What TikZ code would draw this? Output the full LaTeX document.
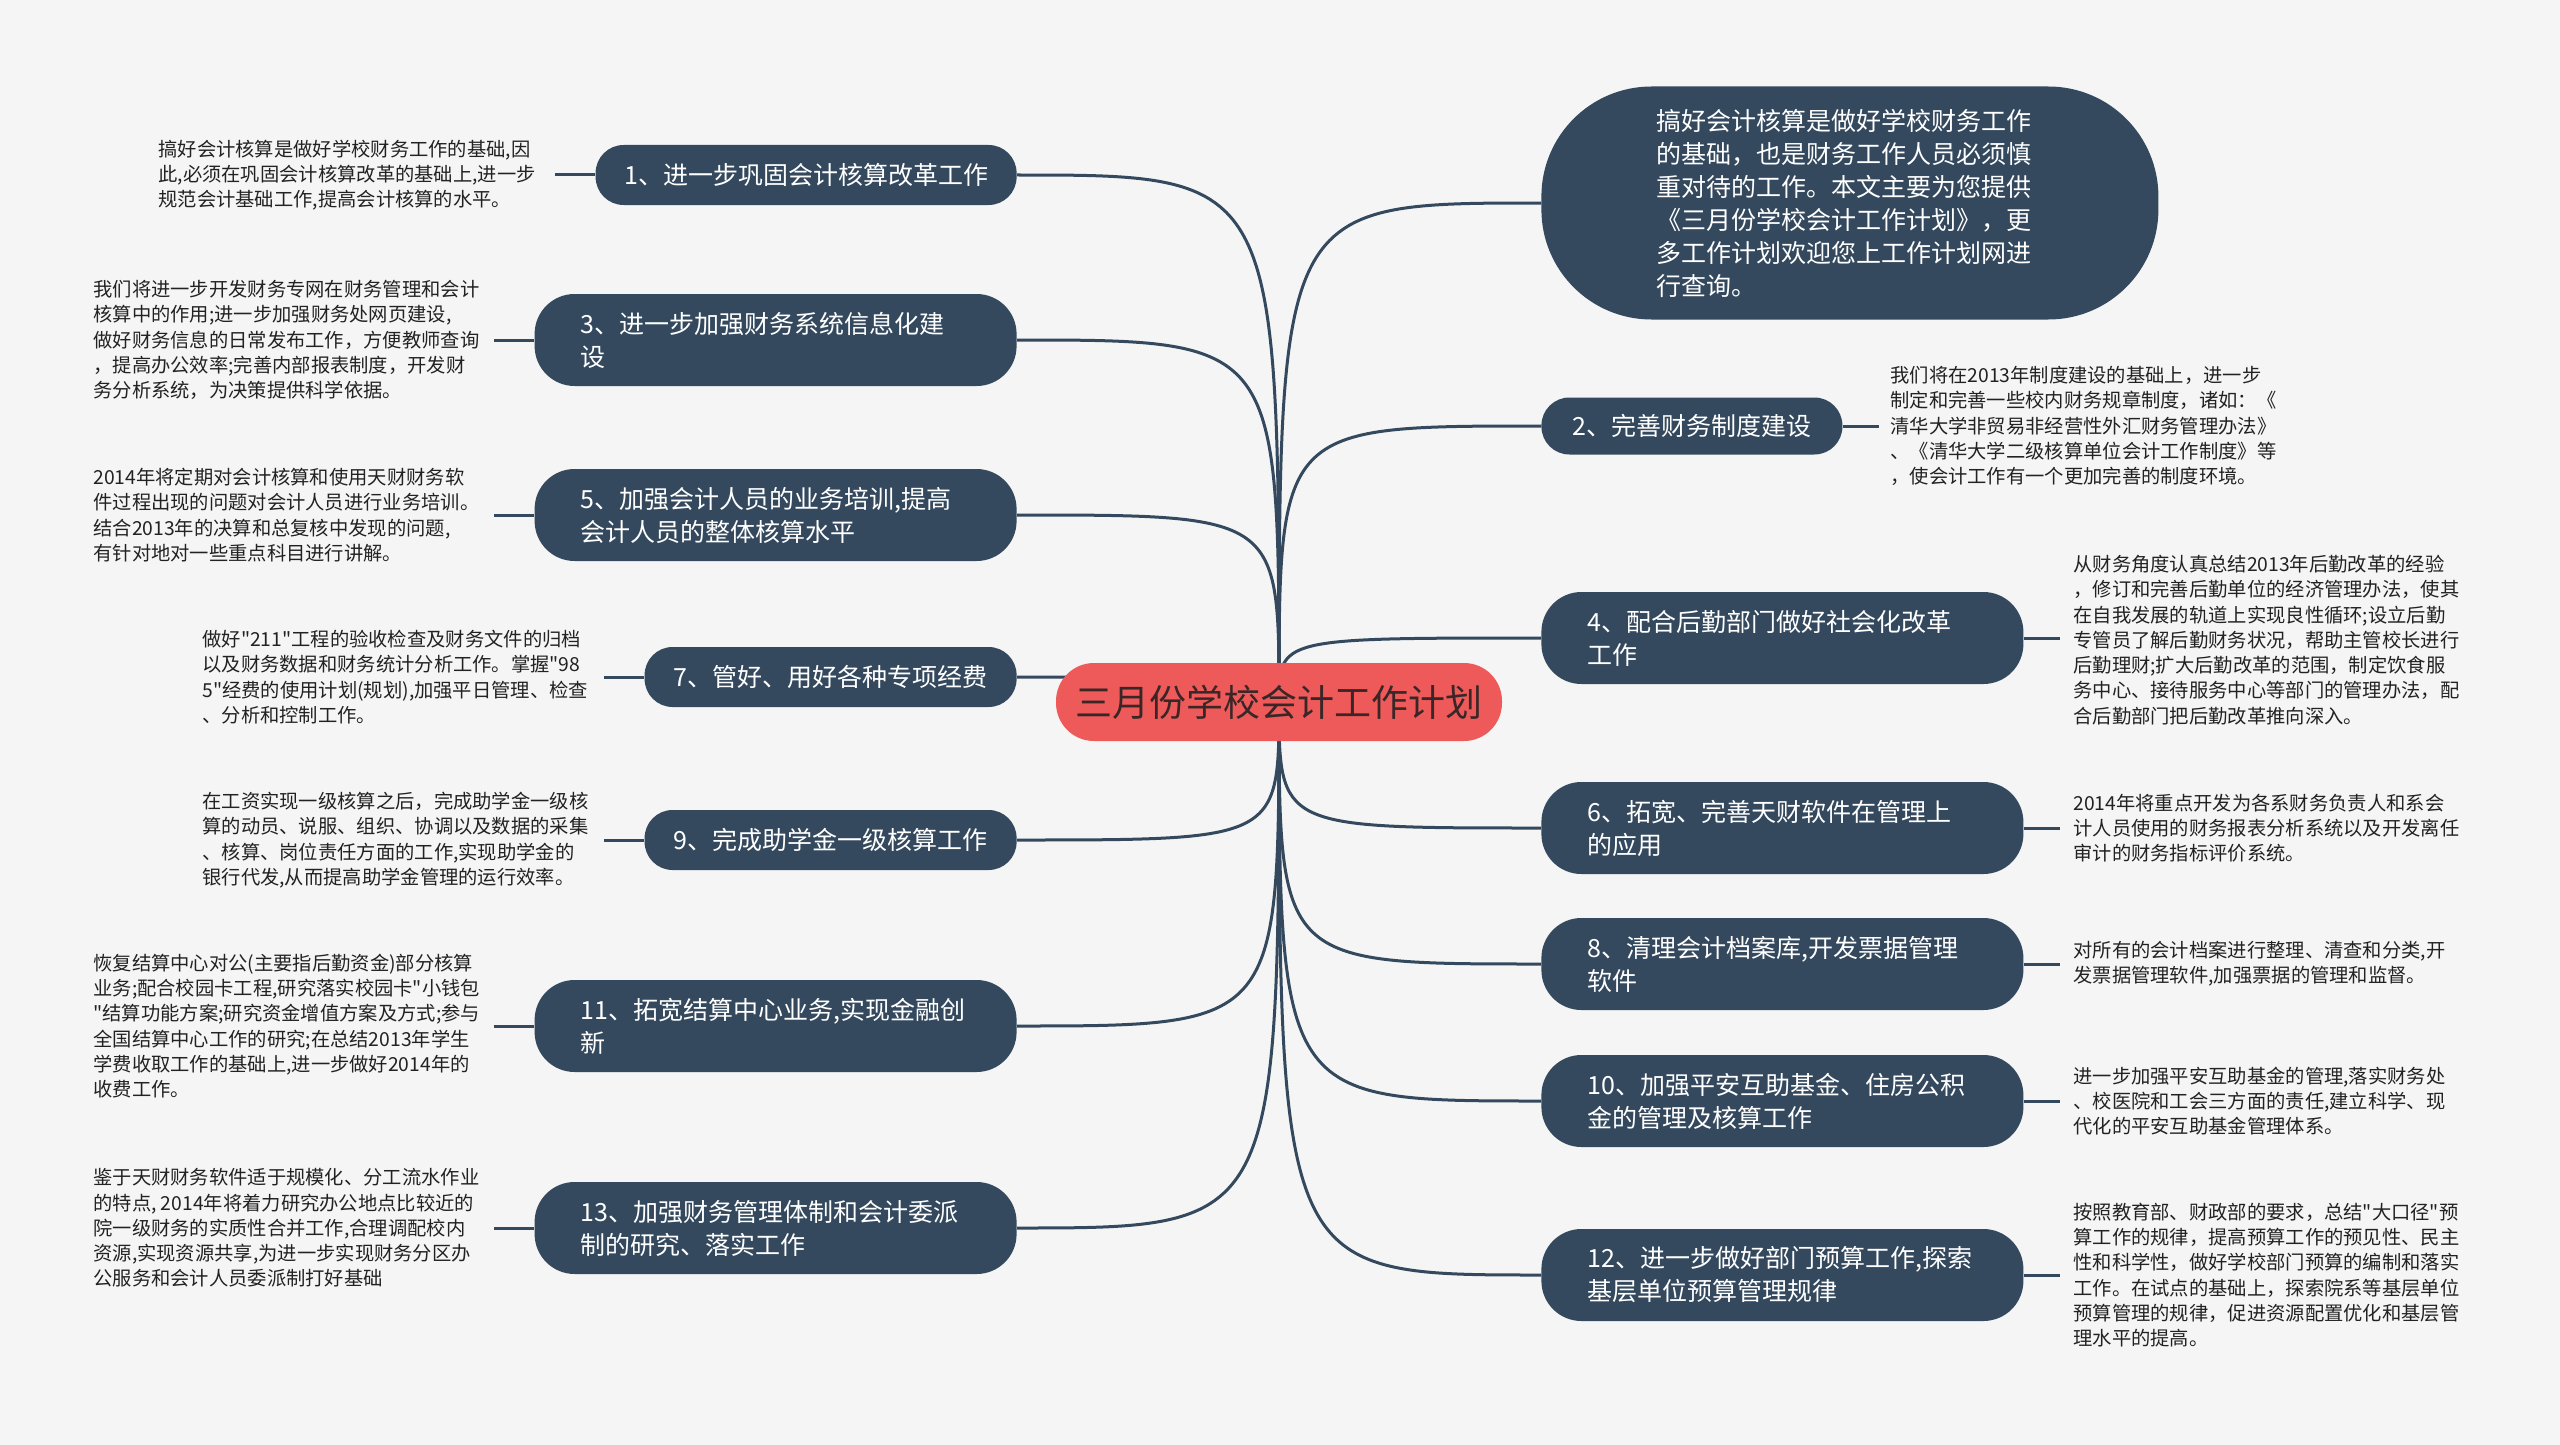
\documentclass[tikz,border=0pt]{standalone}
\usepackage{fontspec}
\setmainfont{Noto Sans CJK SC}[Ligatures=TeXReset]
\usepackage{tikz}
\usetikzlibrary{positioning,calc}
\usepackage{xcolor}
\definecolor{slate}{HTML}{34495E}
\definecolor{rootred}{HTML}{EE5A5A}
\definecolor{roottext}{HTML}{3A2626}
\definecolor{notetext}{HTML}{222222}
\definecolor{canvas}{HTML}{F5F5F5}
\pgfdeclarelayer{background}
\pgfsetlayers{background,main}
\tikzset{
  hub/.style      = {fill=rootred, text=roottext, rounded corners=19pt,
                     minimum width=223pt, minimum height=39pt,
                     font=\fontsize{18.5}{22}\selectfont},
  topic/.style    = {fill=slate, text=white, rounded corners=14pt,
                     minimum height=30pt, font=\fontsize{12.5}{16.5}\selectfont},
  topictwo/.style = {topic, rounded corners=20pt, minimum height=46pt,
                     text width=195pt, align=left, inner xsep=23pt},
  memo/.style     = {text=notetext, align=left, inner sep=0pt,
                     font=\fontsize{9.65}{12.65}\selectfont},
  wire/.style     = {draw=slate, line width=1.5pt},
}

\begin{document}
\begin{tikzpicture}[x=0.5pt, y=-0.5pt]
\useasboundingbox (0,0) rectangle (2560,1445);
% ---- centre ----
\node[hub] (root) at (1279,702) {三月份学校会计工作计划};
% ---- left branches ----
\node[topic, anchor=east, minimum width=210.5pt] (n1) at (1017,175) {1、进一步巩固会计核算改革工作};
\node[topictwo, anchor=east] (n3) at (1017,340) {3、进一步加强财务系统信息化建\\设};
\node[topictwo, anchor=east] (n5) at (1017,515) {5、加强会计人员的业务培训,提高\\会计人员的整体核算水平};
\node[topic, anchor=east, minimum width=186pt] (n7) at (1017,677) {7、管好、用好各种专项经费};
\node[topic, anchor=east, minimum width=186pt] (n9) at (1017,840) {9、完成助学金一级核算工作};
\node[topictwo, anchor=east] (n11) at (1017,1026) {11、拓宽结算中心业务,实现金融创\\新};
\node[topictwo, anchor=east] (n13) at (1017,1228) {13、加强财务管理体制和会计委派\\制的研究、落实工作};
% ---- right branches ----
\node[topic, anchor=west, rounded corners=55pt, minimum width=308.5pt,
      minimum height=116.5pt, text width=193pt, align=left] (intro) at (1541,203)
     {搞好会计核算是做好学校财务工作\\的基础，也是财务工作人员必须慎\\重对待的工作。本文主要为您提供\\《三月份学校会计工作计划》，更\\多工作计划欢迎您上工作计划网进\\行查询。};
\node[topic, anchor=west, minimum width=150.5pt, minimum height=28.5pt] (n2) at (1541,426) {2、完善财务制度建设};
\node[topictwo, anchor=west] (n4) at (1541,638) {4、配合后勤部门做好社会化改革\\工作};
\node[topictwo, anchor=west] (n6) at (1541,828) {6、拓宽、完善天财软件在管理上\\的应用};
\node[topictwo, anchor=west] (n8) at (1541,964) {8、清理会计档案库,开发票据管理\\软件};
\node[topictwo, anchor=west] (n10) at (1541,1101) {10、加强平安互助基金、住房公积\\金的管理及核算工作};
\node[topictwo, anchor=west] (n12) at (1541,1275) {12、进一步做好部门预算工作,探索\\基层单位预算管理规律};
% ---- notes, left ----
\node[memo, anchor=west] (m1) at (158,175) {搞好会计核算是做好学校财务工作的基础,因\\此,必须在巩固会计核算改革的基础上,进一步\\规范会计基础工作,提高会计核算的水平。};
\node[memo, anchor=west] (m3) at (93,340) {我们将进一步开发财务专网在财务管理和会计\\核算中的作用;进一步加强财务处网页建设,\\做好财务信息的日常发布工作，方便教师查询\\，提高办公效率;完善内部报表制度，开发财\\务分析系统，为决策提供科学依据。};
\node[memo, anchor=west] (m5) at (93,515) {2014年将定期对会计核算和使用天财财务软\\件过程出现的问题对会计人员进行业务培训。\\结合2013年的决算和总复核中发现的问题,\\有针对地对一些重点科目进行讲解。};
\node[memo, anchor=west] (m7) at (202,677) {做好"211"工程的验收检查及财务文件的归档\\以及财务数据和财务统计分析工作。掌握"98\\5"经费的使用计划(规划),加强平日管理、检查\\、分析和控制工作。};
\node[memo, anchor=west] (m9) at (202,840) {在工资实现一级核算之后，完成助学金一级核\\算的动员、说服、组织、协调以及数据的采集\\、核算、岗位责任方面的工作,实现助学金的\\银行代发,从而提高助学金管理的运行效率。};
\node[memo, anchor=west] (m11) at (93,1026) {恢复结算中心对公(主要指后勤资金)部分核算\\业务;配合校园卡工程,研究落实校园卡"小钱包\\"结算功能方案;研究资金增值方案及方式;参与\\全国结算中心工作的研究;在总结2013年学生\\学费收取工作的基础上,进一步做好2014年的\\收费工作。};
\node[memo, anchor=west] (m13) at (93,1228) {鉴于天财财务软件适于规模化、分工流水作业\\的特点, 2014年将着力研究办公地点比较近的\\院一级财务的实质性合并工作,合理调配校内\\资源,实现资源共享,为进一步实现财务分区办\\公服务和会计人员委派制打好基础};
% ---- notes, right ----
\node[memo, anchor=west] (m2) at (1890,426) {我们将在2013年制度建设的基础上，进一步\\制定和完善一些校内财务规章制度，诸如：《\\清华大学非贸易非经营性外汇财务管理办法》\\、《清华大学二级核算单位会计工作制度》等\\，使会计工作有一个更加完善的制度环境。};
\node[memo, anchor=west] (m4) at (2073,640) {从财务角度认真总结2013年后勤改革的经验\\，修订和完善后勤单位的经济管理办法，使其\\在自我发展的轨道上实现良性循环;设立后勤\\专管员了解后勤财务状况，帮助主管校长进行\\后勤理财;扩大后勤改革的范围，制定饮食服\\务中心、接待服务中心等部门的管理办法，配\\合后勤部门把后勤改革推向深入。};
\node[memo, anchor=west] (m6) at (2073,828) {2014年将重点开发为各系财务负责人和系会\\计人员使用的财务报表分析系统以及开发离任\\审计的财务指标评价系统。};
\node[memo, anchor=west] (m8) at (2073,964) {对所有的会计档案进行整理、清查和分类,开\\发票据管理软件,加强票据的管理和监督。};
\node[memo, anchor=west] (m10) at (2073,1101) {进一步加强平安互助基金的管理,落实财务处\\、校医院和工会三方面的责任,建立科学、现\\代化的平安互助基金管理体系。};
\node[memo, anchor=west] (m12) at (2073,1275) {按照教育部、财政部的要求，总结"大口径"预\\算工作的规律，提高预算工作的预见性、民主\\性和科学性，做好学校部门预算的编制和落实\\工作。在试点的基础上，探索院系等基层单位\\预算管理的规律，促进资源配置优化和基层管\\理水平的提高。};
% ---- connectors, under the nodes ----
\begin{pgfonlayer}{background}
\fill[canvas] (0,0) rectangle (2560,1445);
\foreach \n in {n1,n3,n5,n7,n9,n11,n13}{
  \draw[wire] (root.center) .. controls (root.center |- \n.east) .. (\n.east);
  \draw[wire] (\n.west) -- ++(-40,0);}
\foreach \n in {intro,n2,n4,n6,n8,n10,n12}
  \draw[wire] (root.center) .. controls (root.center |- \n.west) .. (\n.west);
\foreach \n in {n2,n4,n6,n8,n10,n12}
  \draw[wire] (\n.east) -- ++(36,0);
\end{pgfonlayer}
\end{tikzpicture}
\end{document}
